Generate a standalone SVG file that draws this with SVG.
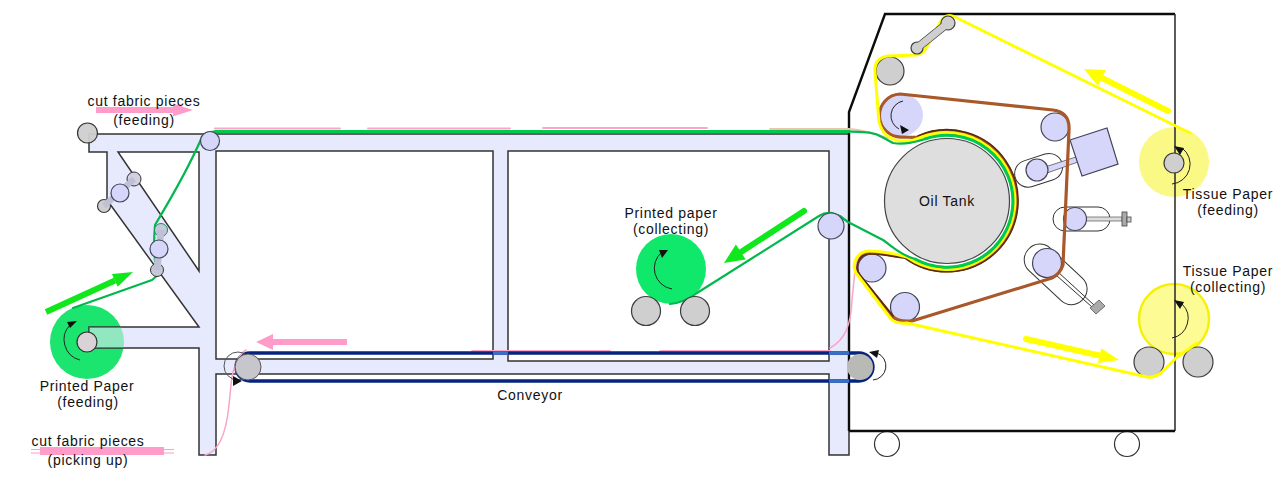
<svg xmlns="http://www.w3.org/2000/svg" width="1280" height="480" viewBox="0 0 1280 480">
<style>
text{font-family:"Liberation Sans",Arial,sans-serif;font-size:14px;letter-spacing:.7px;fill:#111;text-anchor:middle}
.lav{fill:#d6d6fa;stroke:#45455a;stroke-width:1.2}
.gry{fill:#cfcfcf;stroke:#3c3c3c;stroke-width:1.2}
.thin{fill:none;stroke:#222;stroke-width:1}
.ln{fill:none;stroke-linecap:round;stroke-linejoin:round}
.g{stroke:#00b84c;stroke-width:2.2}
.gt{stroke:#00c94f;stroke-width:3}
.p{stroke:#f9a4c8;stroke-width:1.5}
.pt{stroke:#fba6c8;stroke-width:2}
.y{stroke:#ffff00;stroke-width:3}
.b{stroke:#a9582a;stroke-width:3.2}
.pf{fill:#ff9cc9}.gf{fill:#10e81c}.yf{fill:#ffff00}
.k{fill:#111}
</style>
<defs>
<clipPath id="armClip"><rect x="89" y="327" width="40" height="21"/></clipPath>
</defs>

<g id="printed-paper-feeding-roll"><circle cx="87" cy="342" r="37" fill="#1be56e"/></g>
<g id="printed-paper-collecting-roll"><circle cx="671" cy="269" r="35" fill="#10e86c"/></g>

<g id="frame">
<path fill="#e7eafc" fill-rule="evenodd" stroke="#333" stroke-width="1.5" stroke-linejoin="miter" d="M89,134H849V455H829V374H216V455H199V348H89V327H199L107,200V152H89ZM118,152H199V271ZM216,151H493V359H216ZM508,151H829V361H508Z"/>
<circle cx="87" cy="342" r="37" fill="#1be56e" opacity=".42" clip-path="url(#armClip)"/>
</g>

<g id="machine-wheels">
<circle cx="887" cy="444" r="12.5" fill="#fff" stroke="#333" stroke-width="1.2"/>
<circle cx="1127" cy="444" r="12.5" fill="#fff" stroke="#333" stroke-width="1.2"/>
</g>

<g id="tissue-feeding-roll"><circle cx="1174" cy="162" r="35" fill="#fbf985"/></g>
<g id="tissue-collecting-roll"><circle cx="1174" cy="319" r="35" fill="#fdfb93" stroke="#f7f000" stroke-width="2.4"/></g>

<g id="machine-body">
<path d="M849,431V112L885,14H1175" fill="none" stroke="#0c0c0c" stroke-width="2.4"/>
<path d="M1175,14V431" fill="none" stroke="#333" stroke-width="1.6"/>
<path d="M849,431H1175" fill="none" stroke="#0c0c0c" stroke-width="2.4"/>
</g>

<g id="oil-tank"><circle cx="947" cy="201" r="62.5" fill="#dedede" stroke="#444" stroke-width="1.2"/><text x="947" y="206">Oil Tank</text></g>

<g id="pressure-units">
<g id="press-top">
<rect x="1014" y="157" width="49" height="27" rx="13.5" fill="none" stroke="#333" transform="rotate(-18 1038 170)"/>
<path d="M1045,167L1076,157L1078,162L1047,173Z" fill="#d6d6fa" stroke="#555" stroke-width=".8"/>
<path d="M1070,140L1107,128L1118,164L1082,176Z" class="lav"/>
<circle cx="1037" cy="170" r="11" class="lav"/>
</g>
<g id="press-middle">
<rect x="1053" y="207" width="57" height="24" rx="12" fill="none" stroke="#333"/>
<rect x="1085" y="217" width="37" height="4" fill="#ddd" stroke="#555" stroke-width=".7"/>
<rect x="1122" y="212" width="5" height="14" fill="#aaa" stroke="#444" stroke-width=".8"/>
<rect x="1127" y="217" width="4" height="5" fill="#ccc" stroke="#444" stroke-width=".8"/>
<circle cx="1075" cy="219" r="11.5" class="lav"/>
</g>
<g id="press-bottom">
<rect x="1019" y="259" width="74" height="31" rx="15" fill="none" stroke="#333" transform="rotate(43 1056 274)"/>
<path d="M1058,272L1094,305M1056,275L1092,307" fill="none" stroke="#333" stroke-width="1"/>
<path d="M1090,308L1099,300L1105,306L1096,314Z" fill="#aaa" stroke="#555" stroke-width=".8"/>
<circle cx="1047" cy="263" r="14.5" class="lav"/>
</g>
</g>

<g id="rollers-machine">
<circle cx="890" cy="71" r="14" class="gry"/>
<circle cx="902" cy="115" r="21" fill="#d6d6fa"/>
<circle cx="1055" cy="127" r="14" class="lav"/>
<circle cx="872" cy="268" r="14" class="lav"/>
<circle cx="905" cy="307" r="14.5" class="lav"/>
<circle cx="1149" cy="362" r="15" class="gry"/>
<circle cx="1198" cy="362" r="15" class="gry"/>
<circle cx="1174" cy="163" r="10" class="gry"/>
</g>

<g id="connectors">
<g id="conveyor-belt">
<path d="M472,351H610M660,351H830" class="ln pt"/>
<rect x="236" y="353" width="637" height="28" rx="14" fill="none" stroke="#06237f" stroke-width="3.4"/>
<path d="M493,353H508M829,353H849M829,381H849" stroke="#3a6fc8" stroke-width="3.4" fill="none"/>
</g>
<path id="belt-brown" class="ln b" d="M918,137A70,70 0 1 1 905,257C890,255 880,253 871,253A14,14 0 0 0 859,275L893,317Q898,322 912,321L1052,278Q1060,274 1063,265L1069,130Q1070,112 1053,110L900,94A21.500,21.500 0 0 0 902,137C910,137 912,138 918,137Z"/>
<path id="belt-brown-dark" class="ln" stroke="#5a2a12" stroke-width="1.6" d="M918,136A71,71 0 1 1 905,258C890,256 880,254 871,254A13,13 0 0 0 860,275L893,316"/>
<path id="fabric-pink" class="ln p" d="M830,348C845,340 851,325 852,300L855,270Q856,258 862,252M205,455C218,452 226,435 229,405L231,385C232,370 238,355 246,350"/>
<path id="fabric-pink-top" class="ln pt" d="M215,128.500H340M368,128.500H510M543,128H707"/>
<path id="fabric-tan" class="ln" stroke="#ecc4a8" stroke-width="1.8" d="M770,129H849C865,130 875,134 888,138"/>
<path id="fabric-pink-wrap" class="ln" stroke="#f8c0b0" stroke-width="1.2" d="M925,136A67.500,67.500 0 1 1 915,260"/>
<path id="tissue-yellow" class="ln y" d="M1190,133L955,17Q946,13 941,21L925,50Q921,55 915,55L888,56Q874,58 875,72L879,122Q883,138 900,141C910,142 915,140 922,137A68.500,68.500 0 1 1 907,257C892,253 882,251 870,251A15,15 0 0 0 856,273L891,319Q896,324 907,323L1147,377Q1155,378 1162,372L1176,358L1197,343"/>
<path id="paper-green" class="ln g" d="M73,308L152,280L159,274Q152,262 155,225C170,200 190,165 202,137Q205,131.500 215,131.500H849C865,132 874,132 882,137L893,143C905,145 915,142 925,139A66,66 0 1 1 915,259C900,255 892,246 883,240L848,222L840,216L832,213Q825,212 819,216L697,293Q686,302 670,304"/>
<path id="paper-green-top" class="ln gt" d="M215,131.500H849M925,139A66,66 0 1 1 915,259"/>
</g>

<g id="top-dumbbell">
<path d="M948,23L917,48" stroke="#444" stroke-width="8.5" fill="none"/>
<circle cx="948" cy="23" r="7" class="gry"/><circle cx="917" cy="48" r="6" class="gry"/>
<path d="M948,23L917,48" stroke="#cfcfcf" stroke-width="7" fill="none"/>
</g>

<g id="rollers-frame">
<circle cx="87.500" cy="133" r="10" fill="#cfcfcf" stroke="#333" stroke-width="1.2" fill-opacity=".95"/>
<circle cx="210" cy="141" r="9.500" class="lav"/>
<circle cx="831" cy="226" r="13" class="lav"/>
<path d="M134,179L104,206" stroke="#bfc0d6" stroke-width="6" fill="none"/>
<circle cx="134" cy="179" r="7" fill="#d0d1e2" stroke="#333"/>
<circle cx="104" cy="206" r="6.500" class="gry"/>
<path d="M134,179L104,206" stroke="#bfc0d6" stroke-width="6" fill="none"/>
<circle cx="120" cy="193" r="9" class="lav"/>
<circle cx="161" cy="230" r="6.500" fill="#c6c7da" stroke="#1a8a6a" stroke-width="1"/>
<circle cx="157" cy="270" r="6.500" fill="#c6c7da" stroke="#333"/>
<path d="M161,230L157,270" stroke="#bfc0d6" stroke-width="7" fill="none"/>
<circle cx="159" cy="249" r="9" class="lav"/>
<circle cx="87" cy="342" r="10" fill="#d9d2d6" stroke="#333" stroke-width="1.2"/>
<circle cx="238" cy="366" r="14" fill="none" stroke="#555" stroke-width="1"/>
<circle cx="248" cy="367" r="13" fill="#c6c6cc" stroke="#555" stroke-width="1"/>
<circle cx="860" cy="367" r="13" fill="#b9b9b6"/>
<circle cx="646" cy="311" r="14.500" class="gry"/>
<circle cx="695" cy="311" r="14.500" class="gry"/>
</g>

<g id="direction-arrows">
<g id="arrow-green-left"><path d="M46,312L115,280.400" stroke="#10e81c" stroke-width="6" fill="none"/><polygon class="gf" points="133,272 117.700,286.800 111.900,274"/></g>
<g id="arrow-green-right"><path d="M804,211L741,252" stroke="#10e81c" stroke-width="6" stroke-linecap="round" fill="none"/><polygon class="gf" points="724,263 745.700,259.600 735.900,244.600"/></g>
<g id="arrow-pink-top"><rect x="96" y="107" width="78" height="6" class="pf"/><polygon class="pf" points="173,103.500 193,110 173,116.500"/></g>
<g id="arrow-pink-conveyor"><rect x="272" y="339" width="75" height="6" class="pf"/><polygon class="pf" points="273,334 256,342 273,350"/></g>
<g id="arrow-pink-bottom"><rect x="40" y="447" width="124" height="8" class="pf"/><path d="M31,449.500H174M31,453H174" stroke="#ff9cc9" stroke-width="1.100"/></g>
<g id="arrow-yellow-top"><path d="M1168,111L1102,78" stroke="#ffff00" stroke-width="6" stroke-linecap="round" fill="none"/><polygon class="yf" points="1084,69 1105.900,69.900 1097.900,85.900"/></g>
<g id="arrow-yellow-bottom"><path d="M1026,339L1100,355.600" stroke="#ffff00" stroke-width="6" stroke-linecap="round" fill="none"/><polygon class="yf" points="1119,360 1097.900,362.900 1101.200,348.300"/></g>
</g>

<g id="rotation-marks">
<path class="thin" d="M80,360A21,21 0 0 1 70,325"/><polygon class="k" points="77,321 67,322 70,328"/>
<path class="thin" d="M672,289A21,21 0 0 1 662,252"/><polygon class="k" points="668,250 659,250 662,258"/>
<path class="thin" d="M903,101A15,15 0 0 0 899,129"/><polygon class="k" points="909,130 900,125 902,134"/>
<path class="thin" d="M1172,184A20,20 0 0 0 1182,148"/><polygon class="k" points="1174,146 1184,148 1180,155"/>
<path class="thin" d="M1172,338A20,20 0 0 0 1182,304"/><polygon class="k" points="1174,300 1184,302 1180,309"/>
<polygon class="k" points="242,381 233,376 233,386"/>
<path class="thin" d="M873,380A14,14 0 0 0 877,353"/><polygon class="k" points="869,352 879,350 877,358"/>
</g>

<g id="labels">
<text x="144" y="106">cut fabric pieces</text>
<text x="144" y="125">(feeding)</text>
<text x="87" y="391">Printed Paper</text>
<text x="88" y="407">(feeding)</text>
<text x="88" y="446">cut fabric pieces</text>
<text x="88" y="465">(picking up)</text>
<text x="530" y="400">Conveyor</text>
<text x="671" y="218">Printed paper</text>
<text x="671" y="234">(collecting)</text>
<text x="1228" y="199">Tissue Paper</text>
<text x="1228" y="215">(feeding)</text>
<text x="1228" y="276">Tissue Paper</text>
<text x="1228" y="292">(collecting)</text>
</g>
</svg>
